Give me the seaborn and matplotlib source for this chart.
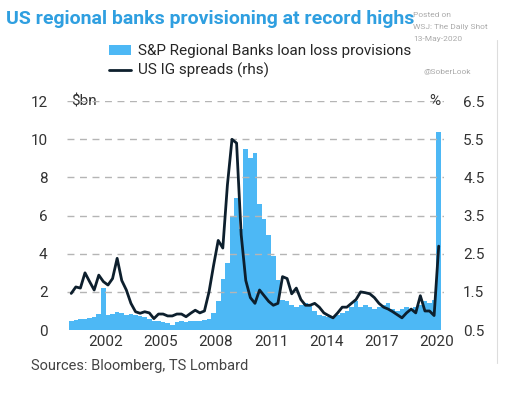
import numpy as np
import matplotlib.pyplot as plt
import seaborn as sns

# quarterly, 2000Q1 .. 2020Q1
provisions = [0.5, 0.55, 0.6, 0.6,
              0.65, 0.7, 0.85, 2.2,
              0.8, 0.85, 0.95, 0.9,
              0.8, 0.85, 0.8, 0.75,
              0.7, 0.6, 0.5, 0.45,
              0.4, 0.35, 0.25, 0.4,
              0.5, 0.4, 0.45, 0.45,
              0.5, 0.55, 0.6, 0.9,
              1.5, 2.7, 3.5, 6.0,
              6.9, 5.3, 9.5, 9.0,
              9.3, 6.6, 5.8, 5.0,
              3.9, 2.6, 1.6, 1.5,
              1.3, 1.2, 1.3, 1.4,
              1.3, 1.0, 0.8, 0.75,
              0.7, 0.75, 0.8, 0.9,
              1.0, 1.2, 1.5, 1.2,
              1.3, 1.2, 1.1, 1.2,
              1.3, 1.4, 1.1, 1.0,
              1.1, 1.2, 1.0, 1.2,
              1.3, 1.5, 1.4, 1.6,
              10.4]
ig_spreads = [1.46, 1.63, 1.6, 2.0,
              1.77, 1.55, 1.94, 1.77,
              1.68, 1.85, 2.38, 1.8,
              1.55, 1.2, 0.98, 0.94,
              0.98, 0.95, 0.8, 0.92,
              0.92, 0.87, 0.87, 0.92,
              0.92, 0.85, 0.94, 1.02,
              0.95, 1.0, 1.5, 2.2,
              2.85, 2.65, 4.3, 5.5,
              5.4, 3.0, 1.8, 1.35,
              1.2, 1.55, 1.4, 1.25,
              1.15, 1.2, 1.9, 1.85,
              1.45, 1.6, 1.3, 1.15,
              1.15, 1.2, 1.1, 0.95,
              0.88, 0.82, 0.95, 1.1,
              1.1, 1.2, 1.3, 1.5,
              1.48, 1.45, 1.35, 1.2,
              1.1, 1.05, 0.98, 0.9,
              0.82, 0.95, 1.05, 0.95,
              1.4, 1.0, 1.0, 0.88,
              2.7]
years = 2000 + np.arange(len(provisions)) * 0.25 + 0.125
xticks = [2002, 2005, 2008, 2011, 2014, 2017, 2020]
left_ticks = list(range(0, 13, 2))

sns.set_style("white")
plt.rcParams["font.family"] = ["Roboto", "DejaVu Sans"]

fig = plt.figure(figsize=(5.16, 4.03), dpi=100)
ax = fig.add_axes([0.13, 0.181, 0.73, 0.568])
ax2 = ax.twinx()

ax.bar(years, provisions, width=0.25, color="#4db8f5", linewidth=0,
       label="S&P Regional Banks loan loss provisions", zorder=2)
sns.lineplot(x=years, y=ig_spreads, ax=ax2, color="#0d1f2d", linewidth=2,
             label="US IG spreads (rhs)", legend=False)
# dashed gridlines drawn on the top axes, under the line but over nothing else
ax2.hlines(np.arange(1.5, 6.6, 1.0), 1999.9, 2020.4, colors="#b5b5b5",
           linestyles=(0, (5, 4)), linewidth=1.0, zorder=0.5)

ax.set_xlim(1999.9, 2020.4)
ax2.set_xlim(1999.9, 2020.4)
ax.set_ylim(0, 12)
ax2.set_ylim(0.5, 6.5)
ax.set_yticks(left_ticks)
ax2.set_yticks(np.arange(0.5, 6.6, 1.0))
ax2.set_yticklabels([f"{v:g}" for v in np.arange(0.5, 6.6, 1.0)])
ax.set_xticks(xticks)
for a in (ax, ax2):
    for s in a.spines.values():
        s.set_visible(False)
    a.tick_params(length=0, labelsize=11, colors="#333333")
ax.tick_params(axis="y", pad=14)
ax2.tick_params(axis="y", pad=14)

ax.text(0.01, 12, "$bn", ha="left", va="center", fontsize=11, color="#333333",
        transform=ax.get_yaxis_transform())
ax2.text(0.99, 6.5, "%", ha="right", va="center", fontsize=11, color="#333333",
         transform=ax2.get_yaxis_transform())

h1, l1 = ax.get_legend_handles_labels()
h2, l2 = ax2.get_legend_handles_labels()
fig.legend(h1 + h2, l1 + l2, loc="upper left", bbox_to_anchor=(0.2, 0.905),
           frameon=False, fontsize=11, handlelength=1.4, labelspacing=0.3,
           borderaxespad=0, handletextpad=0.5)

fig.text(0.012, 0.975, "US regional banks provisioning at record highs",
         fontsize=14, fontweight="bold", color="#2f9fe0", va="top")
fig.text(0.8, 0.97, "Posted on", fontsize=6, color="#aaaaaa", va="top")
fig.text(0.8, 0.94, "WSJ: The Daily Shot", fontsize=6, color="#aaaaaa", va="top")
fig.text(0.8, 0.91, "13-May-2020", fontsize=6, color="#aaaaaa", va="top")
fig.text(0.82, 0.83, "@SoberLook", fontsize=6, color="#aaaaaa", va="top")
fig.text(0.06, 0.11, "Sources: Bloomberg, TS Lombard", fontsize=10.5,
         color="#444444", va="top")
fig.add_artist(plt.Line2D([0.963, 0.963], [0.1, 0.9], color="#dddddd", lw=0.8))

fig.savefig("out.png", dpi=100)
